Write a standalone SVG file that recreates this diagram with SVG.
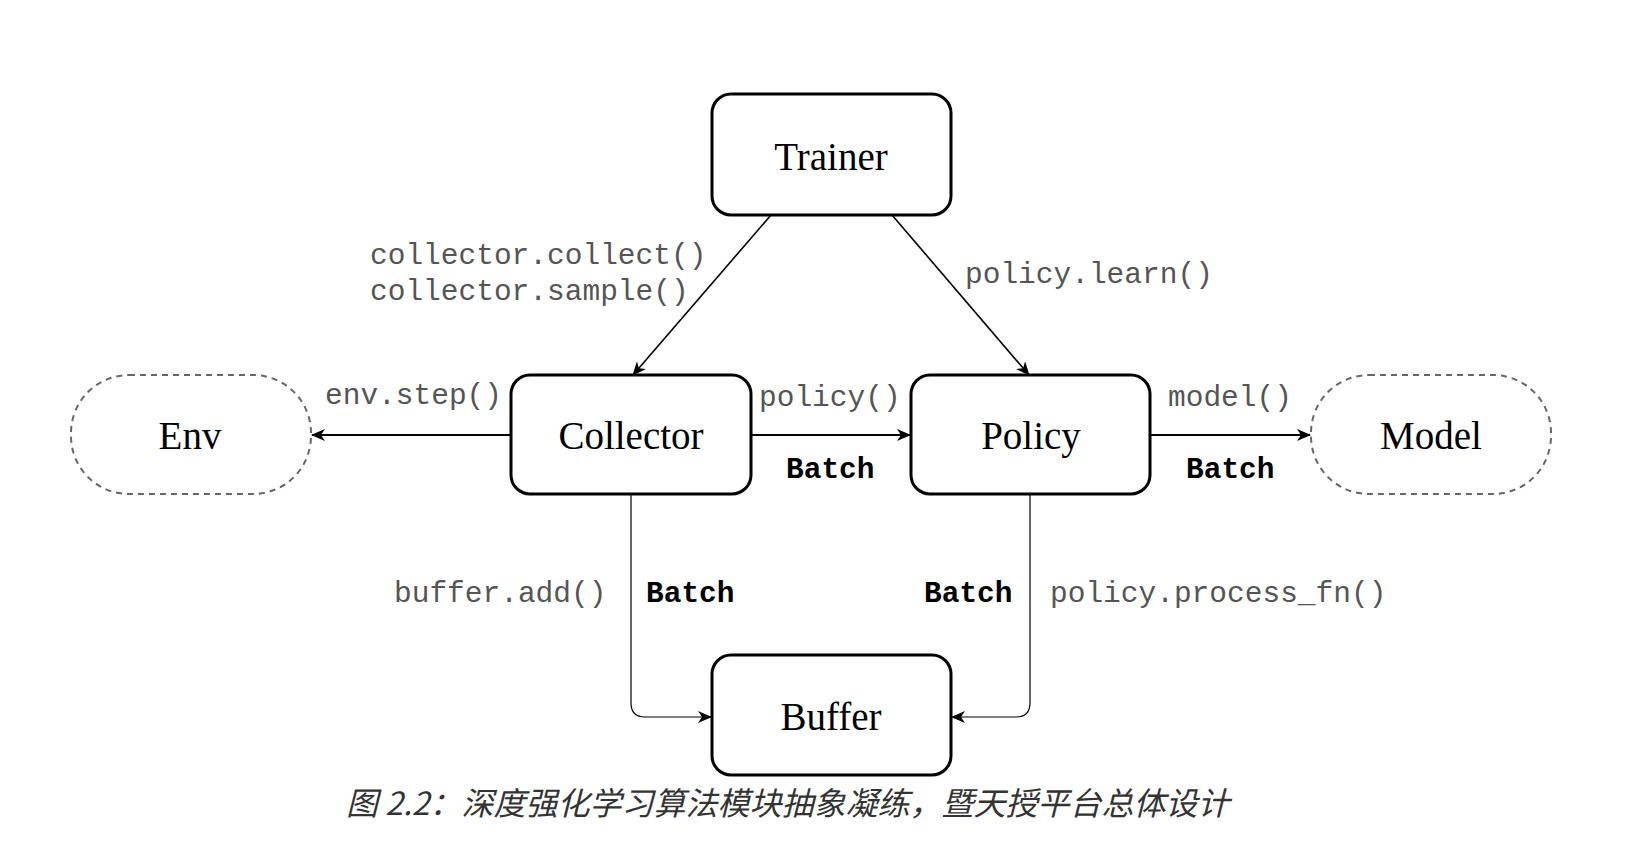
<svg xmlns="http://www.w3.org/2000/svg" width="1646" height="846" viewBox="0 0 1646 846">
<defs>
<marker id="arr" viewBox="0 0 14 12" refX="13" refY="6" markerWidth="14" markerHeight="12" markerUnits="userSpaceOnUse" orient="auto">
<path d="M0,0 L14,6 L0,12 L4,6 z" fill="#000"/>
</marker>
<style>
.box{fill:#fff;stroke:#000;stroke-width:3}
.cloud{fill:#fff;stroke:#666;stroke-width:2;stroke-dasharray:6 5}
.nl{font-family:"Liberation Serif","Times New Roman",serif;font-size:39px;fill:#000;text-anchor:middle}
.code{font-family:"Liberation Mono","Courier New",monospace;font-size:29.5px;fill:#555}
.bat{font-family:"Liberation Mono","Courier New",monospace;font-size:29.5px;font-weight:bold;fill:#000}
.ln{fill:none;stroke:#000;stroke-width:1.6}
.ln2{fill:none;stroke:#000;stroke-width:2}
.ln1{fill:none;stroke:#000;stroke-width:1.2}
.cap{font-family:"Noto Sans CJK SC","Noto Sans",sans-serif;font-size:32px;font-style:italic;fill:#333}
</style>
</defs>
<rect width="1646" height="846" fill="#fff"/>
<g id="connectors">
<path class="ln" d="M771,215 L633,375" marker-end="url(#arr)"/>
<path class="ln" d="M892,215 L1029,375" marker-end="url(#arr)"/>
<path class="ln2" d="M511,435 L312,435" marker-end="url(#arr)"/>
<path class="ln2" d="M751,435 L910,435" marker-end="url(#arr)"/>
<path class="ln2" d="M1150,435 L1310,435" marker-end="url(#arr)"/>
<path class="ln1" d="M631,494 L631,703 Q631,717 645,717 L711,717" marker-end="url(#arr)"/>
<path class="ln1" d="M1030,494 L1030,703 Q1030,717 1016,717 L952,717" marker-end="url(#arr)"/>
<text class="code" x="370" y="264">collector.collect()</text>
<text class="code" x="370" y="300">collector.sample()</text>
<text class="code" x="965" y="283">policy.learn()</text>
<text class="code" x="325" y="404">env.step()</text>
<text class="code" x="759" y="406">policy()</text>
<text class="code" x="1168" y="406">model()</text>
<text class="bat" x="786" y="478">Batch</text>
<text class="bat" x="1186" y="478">Batch</text>
<text class="code" x="394" y="602">buffer.add()</text>
<text class="bat" x="646" y="602">Batch</text>
<text class="bat" x="924" y="602">Batch</text>
<text class="code" x="1050" y="602">policy.process_fn()</text>
</g>
<g id="trainer">
<rect class="box" x="712" y="94" width="239" height="121" rx="19"/>
<text class="nl" x="831" y="170">Trainer</text>
</g>
<g id="collector">
<rect class="box" x="511" y="375" width="240" height="119" rx="19"/>
<text class="nl" x="631" y="449">Collector</text>
</g>
<g id="policy">
<rect class="box" x="911" y="375" width="239" height="119" rx="19"/>
<text class="nl" x="1031" y="449">Policy</text>
</g>
<g id="buffer">
<rect class="box" x="712" y="655" width="239" height="120" rx="19"/>
<text class="nl" x="831" y="730">Buffer</text>
</g>
<g id="env">
<rect class="cloud" x="71" y="375" width="240" height="119" rx="58" ry="58"/>
<text class="nl" x="190" y="449">Env</text>
</g>
<g id="model">
<rect class="cloud" x="1311" y="375" width="240" height="119" rx="58" ry="58"/>
<text class="nl" x="1431" y="449">Model</text>
</g>
<text class="cap" x="346" y="815">图 2.2：深度强化学习算法模块抽象凝练，暨天授平台总体设计</text>
</svg>
